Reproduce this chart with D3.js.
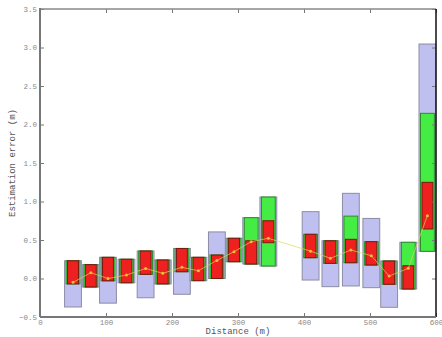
<!DOCTYPE html>
<html>
<head>
<meta charset="utf-8">
<script src="https://cdn.jsdelivr.net/npm/d3@7"></script>
<style>
  body { margin: 0; background: #fff; }
  text { font-family: "Liberation Mono", "DejaVu Sans Mono", monospace; }
</style>
</head>
<body>
<div id="chart"></div>
<script>
// distance of each measurement group (m)
var distances = [50, 77, 103, 131, 160, 186, 215, 240, 268, 294, 320, 346, 410, 440, 471, 502, 529, 558, 587];
// outer range (lavender)
var outerLow  = [-0.37, -0.11, -0.32, -0.055, -0.25, -0.07, -0.205, -0.028, 0.0, 0.218, 0.188, 0.162, -0.02, -0.106, -0.097, -0.119, -0.374, -0.136, 0.353];
var outerHigh = [0.23, 0.18, 0.275, 0.25, 0.357, 0.24, 0.39, 0.275, 0.605, 0.522, 0.79, 1.058, 0.868, 0.49, 1.106, 0.78, 0.227, 0.47, 3.045];
// middle range (green)
var midLow  = [-0.07, -0.11, -0.03, -0.055, 0.054, -0.07, 0.088, -0.028, 0.0, 0.218, 0.188, 0.162, 0.27, 0.197, 0.205, 0.175, -0.075, -0.136, 0.353];
var midHigh = [0.23, 0.18, 0.275, 0.25, 0.357, 0.24, 0.39, 0.275, 0.305, 0.522, 0.79, 1.058, 0.574, 0.49, 0.81, 0.478, 0.227, 0.47, 2.145];
// inner range (red)
var innerLow  = [-0.07, -0.11, -0.03, -0.055, 0.054, -0.07, 0.088, -0.028, 0.0, 0.218, 0.188, 0.465, 0.27, 0.197, 0.205, 0.175, -0.075, -0.136, 0.643];
var innerHigh = [0.23, 0.18, 0.275, 0.25, 0.357, 0.24, 0.39, 0.275, 0.305, 0.522, 0.49, 0.75, 0.574, 0.49, 0.509, 0.478, 0.227, 0.166, 1.249];
// mean error
var meanError = [-0.05, 0.075, 0.0, 0.045, 0.13, 0.067, 0.145, 0.1, 0.235, 0.348, 0.478, 0.522, 0.355, 0.262, 0.37, 0.296, 0.032, 0.132, 0.816];

var xTicks = [0, 100, 200, 300, 400, 500, 600];
var yTicks = [-0.5, 0, 0.5, 1, 1.5, 2, 2.5, 3, 3.5];

var width = 442, height = 337;
var margin = { top: 9, right: 6, bottom: 20, left: 40 };
var plotW = width - margin.left - margin.right;
var plotH = height - margin.top - margin.bottom;

var x = d3.scaleLinear().domain([0, 600]).range([margin.left, margin.left + plotW]);
var y = d3.scaleLinear().domain([-0.5, 3.5]).range([margin.top + plotH, margin.top]);

var svg = d3.select("#chart").append("svg")
    .attr("width", width)
    .attr("height", height);

var data = distances.map(function (d, i) {
    return { d: d, oLo: outerLow[i], oHi: outerHigh[i], mLo: midLow[i], mHi: midHigh[i],
             iLo: innerLow[i], iHi: innerHigh[i], mean: meanError[i] };
});

// box widths in metres
var wOuter = 25.5, wMid = 21, wInner = 16.5;

function drawBoxes(cls, w, lo, hi, fill, stroke) {
    svg.selectAll("." + cls)
        .data(data)
        .enter().append("rect")
        .attr("class", cls)
        .attr("x", function (d) { return x(d.d - w / 2); })
        .attr("width", function (d) { return x(d.d + w / 2) - x(d.d - w / 2); })
        .attr("y", function (d) { return y(d[hi]); })
        .attr("height", function (d) { return y(d[lo]) - y(d[hi]); })
        .style("fill", fill)
        .style("stroke", stroke)
        .style("stroke-width", 1);
}

drawBoxes("outer", wOuter, "oLo", "oHi", "#bfc0f0", "#8c8ca4");
drawBoxes("mid", wMid, "mLo", "mHi", "#44ec44", "#2e8a2e");
drawBoxes("inner", wInner, "iLo", "iHi", "#ee2020", "#7a1a10");

// mean line
var line = d3.line()
    .x(function (d) { return x(d.d); })
    .y(function (d) { return y(d.mean); });

svg.append("path")
    .attr("d", line(data))
    .style("fill", "none")
    .style("stroke", "#d8d860")
    .style("stroke-opacity", 0.85)
    .style("stroke-width", 0.8);

svg.selectAll(".dot")
    .data(data)
    .enter().append("circle")
    .attr("class", "dot")
    .attr("cx", function (d) { return x(d.d); })
    .attr("cy", function (d) { return y(d.mean); })
    .attr("r", 1.5)
    .style("fill", "#e8c030");

// axes (ticks point inward)
var xBottom = svg.append("g")
    .attr("transform", "translate(0," + (margin.top + plotH) + ")")
    .call(d3.axisBottom(x).tickValues(xTicks).tickSize(-4).tickPadding(3).tickFormat(d3.format("d")));
var xTop = svg.append("g")
    .attr("transform", "translate(0," + margin.top + ")")
    .call(d3.axisTop(x).tickValues(xTicks).tickSize(-4).tickFormat(""));
var yLeft = svg.append("g")
    .attr("transform", "translate(" + margin.left + ",0)")
    .call(d3.axisLeft(y).tickValues(yTicks).tickSize(-4).tickPadding(3).tickFormat(d3.format(".1f")));
var yRight = svg.append("g")
    .attr("transform", "translate(" + (margin.left + plotW) + ",0)")
    .call(d3.axisRight(y).tickValues(yTicks).tickSize(-4).tickFormat(""));

[xBottom, xTop, yLeft, yRight].forEach(function (g) {
    g.select(".domain").remove();
    g.selectAll("line").style("stroke", "#777");
    g.selectAll("text").style("fill", "#888").style("font-size", "7.5px")
        .style("font-family", "'Liberation Mono', monospace");
});
xBottom.selectAll("text").attr("dy", "0.6em");

// frame
var x0 = margin.left, x1 = margin.left + plotW, y0 = margin.top, y1 = margin.top + plotH;
svg.append("line").attr("x1", x0).attr("x2", x1).attr("y1", y0).attr("y2", y0)
    .style("stroke", "#888").style("stroke-width", 1.5);
svg.append("line").attr("x1", x1).attr("x2", x1).attr("y1", y0).attr("y2", y1)
    .style("stroke", "#111").style("stroke-width", 1.5);
svg.append("line").attr("x1", x0).attr("x2", x1).attr("y1", y1).attr("y2", y1)
    .style("stroke", "#777").style("stroke-width", 2);
svg.append("line").attr("x1", x0).attr("x2", x0).attr("y1", y0 - 1).attr("y2", y1)
    .style("stroke", "#777").style("stroke-width", 2);

// axis titles
svg.append("text")
    .attr("x", (x0 + x1) / 2)
    .attr("y", 334)
    .attr("text-anchor", "middle")
    .style("font-size", "9px")
    .style("fill", "#555")
    .text("Distance (m)");

svg.append("text")
    .attr("transform", "translate(15," + ((y0 + y1) / 2) + ") rotate(-90)")
    .attr("text-anchor", "middle")
    .style("font-size", "9px")
    .style("fill", "#555")
    .text("Estimation error (m)");
</script>
</body>
</html>
